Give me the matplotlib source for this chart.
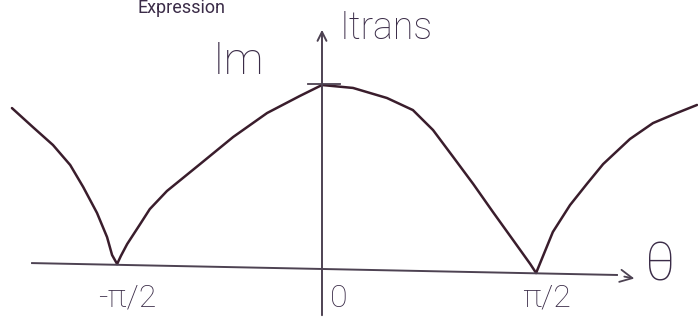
import matplotlib
matplotlib.use("Agg")
import matplotlib.pyplot as plt

# theta in units of pi, intensity relative to Imax
left_outer_theta = [-0.740, -0.690, -0.642, -0.601, -0.570, -0.537, -0.513, -0.501, -0.489]
left_outer_i = [0.874, 0.770, 0.672, 0.563, 0.443, 0.301, 0.169, 0.071, 0.022]

left_inner_theta = [-0.489, -0.480, -0.465, -0.434, -0.411, -0.370, -0.291, -0.212, -0.131, -0.053, 0.0]
left_inner_i = [0.022, 0.066, 0.131, 0.240, 0.322, 0.421, 0.568, 0.716, 0.847, 0.940, 1.0]

right_inner_theta = [0.0, 0.074, 0.155, 0.217, 0.265, 0.313, 0.361, 0.408, 0.456, 0.497, 0.511]
right_inner_i = [1.0, 0.984, 0.929, 0.863, 0.754, 0.607, 0.459, 0.306, 0.153, 0.022, -0.027]

right_outer_theta = [0.511, 0.551, 0.592, 0.632, 0.671, 0.735, 0.790, 0.847, 0.895]
right_outer_i = [-0.027, 0.197, 0.344, 0.459, 0.568, 0.705, 0.792, 0.847, 0.891]

tick_pos = [-0.465, 0.041, 0.535]
tick_text = ["-\u03c0/2", "0", "\u03c0/2"]

ink = "#3a1d2c"
pencil = "#4d4252"
txt = "#3b2c48"
hand = ["Roboto", "DejaVu Sans"]

fig = plt.figure(figsize=(6.98, 3.2), dpi=100)
ax = fig.add_axes([0, 0, 1, 1])
ax.set_xlim(-0.7685, 0.8974)
ax.set_ylim(-0.284, 1.4645)
ax.axis("off")

for th, ii in [(left_outer_theta, left_outer_i), (left_inner_theta, left_inner_i),
               (right_inner_theta, right_inner_i), (right_outer_theta, right_outer_i)]:
    ax.plot(th, ii, color=ink, lw=1.8, solid_capstyle="round", solid_joinstyle="round")

# theta axis (drawn slightly tilted, like on paper)
ax.plot([-0.692, 0.704], [0.027, -0.038], color=pencil, lw=1.4)
ax.annotate("", xy=(0.752, -0.060), xytext=(0.715, -0.044),
            arrowprops=dict(arrowstyle="->", color=pencil, lw=1.3, mutation_scale=22))

# intensity axis
ax.annotate("", xy=(0.0, 1.317), xytext=(0.0, -0.273),
            arrowprops=dict(arrowstyle="->", color=pencil, lw=1.4, mutation_scale=16))
ax.plot([-0.033, 0.043], [1.005, 1.005], color=pencil, lw=1.3)

for x, s in zip(tick_pos, tick_text):
    ax.text(x, -0.165, s, ha="center", va="center", fontsize=23, color=txt,
            family=hand, fontweight="light")

ax.text(0.807, 0.011, "\u03b8", ha="center", va="center", fontsize=38, color=txt,
        family=hand, fontweight="light")
ax.text(0.153, 1.311, "Itrans", ha="center", va="center", fontsize=27, color=txt,
        family=hand, fontweight="light")
ax.text(-0.200, 1.126, "Im", ha="center", va="center", fontsize=32, color=txt,
        family=hand, fontweight="light")
ax.text(-0.4415, 1.393, "Expression", ha="left", va="baseline", fontsize=13, color=txt,
        family=hand)

fig.savefig("out.png", dpi=100, facecolor="white")
